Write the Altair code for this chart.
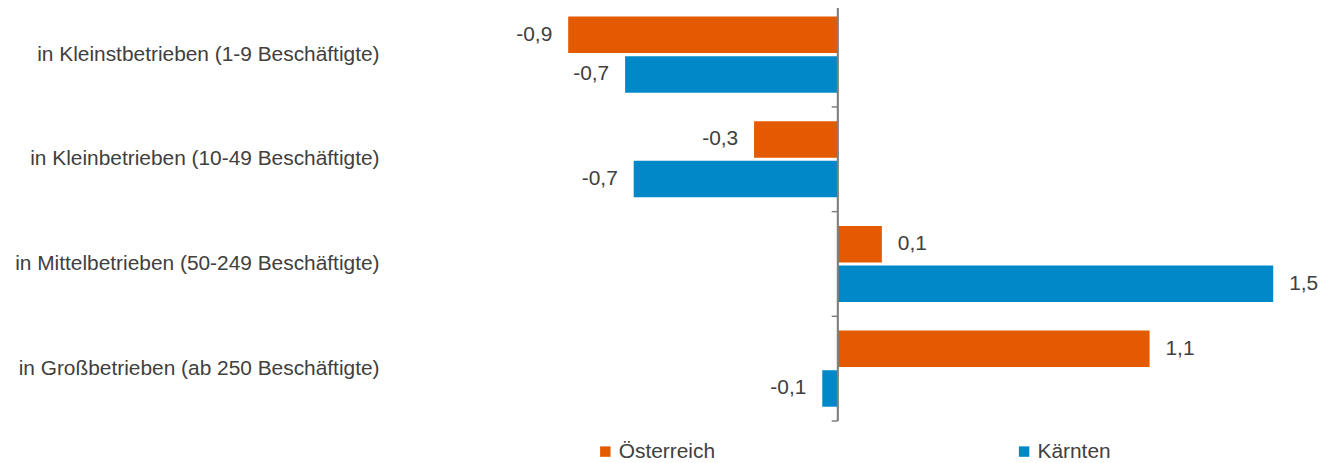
import altair as alt
import pandas as pd

categories = [
    "in Kleinstbetrieben (1-9 Beschäftigte)",
    "in Kleinbetrieben (10-49 Beschäftigte)",
    "in Mittelbetrieben (50-249 Beschäftigte)",
    "in Großbetrieben (ab 250 Beschäftigte)",
]
series = ["Österreich", "Kärnten"]
oesterreich = [-0.909, -0.282, 0.149, 1.052]
kaernten = [-0.717, -0.688, 1.469, -0.052]
colors = ["#E35A00", "#0088C9"]

rows = []
for i, c in enumerate(categories):
    rows.append({"cat": c, "series": series[0], "v": oesterreich[i], "order": 0})
    rows.append({"cat": c, "series": series[1], "v": kaernten[i], "order": 1})
df = pd.DataFrame(rows)
cat_df = pd.DataFrame({"cat": categories})

FONT = "Liberation Sans"
TXT = "#404040"
FS = 21

yenc = alt.Y(
    "cat:N",
    sort=categories,
    scale=alt.Scale(paddingInner=0, paddingOuter=0),
    axis=alt.Axis(
        title=None, domain=False, ticks=False, tickSize=0, labelPadding=14,
        labelFontSize=FS, labelFont=FONT, labelColor=TXT, labelLimit=700,
    ),
)
yoff = alt.YOffset(
    "series:N", sort=series,
    scale=alt.Scale(paddingInner=0.08, paddingOuter=0.36),
)
xenc = alt.X("v:Q", scale=alt.Scale(domain=[-1.5, 1.6], nice=False, zero=False), axis=None)

base = alt.Chart(df)

bars = base.mark_bar().encode(
    y=yenc,
    yOffset=yoff,
    x=xenc,
    color=alt.Color(
        "series:N",
        sort=series,
        scale=alt.Scale(domain=series, range=colors),
        legend=alt.Legend(
            title=None, orient="none", direction="horizontal",
            legendX=203, legendY=441, columnPadding=300,
            symbolType="square", symbolSize=110, symbolStrokeWidth=0,
            symbolOffset=0, labelOffset=3,
            labelFontSize=FS, labelFont=FONT, labelColor=TXT, padding=0,
        ),
    ),
)

label_expr = "replace(replace(format(datum.v, '.1f'), '.', ','), '\u2212', '-')"

text_pos = base.transform_filter("datum.v >= 0").transform_calculate(
    lab=label_expr
).mark_text(align="left", baseline="middle", dx=16, fontSize=FS, font=FONT, color=TXT).encode(
    y=alt.Y("cat:N", sort=categories), yOffset=alt.YOffset("series:N", sort=series), x="v:Q", text="lab:N"
)
text_neg = base.transform_filter("datum.v < 0").transform_calculate(
    lab=label_expr
).mark_text(align="right", baseline="middle", dx=-16, fontSize=FS, font=FONT, color=TXT).encode(
    y=alt.Y("cat:N", sort=categories), yOffset=alt.YOffset("series:N", sort=series), x="v:Q", text="lab:N"
)

zero_line = alt.Chart(cat_df).mark_rule(color="#7F7F7F", strokeWidth=1.5).encode(
    x=alt.datum(0)
)
ticks_top = alt.Chart(cat_df).mark_rule(color="#7F7F7F", strokeWidth=1.5, x2Offset=-6).encode(
    x=alt.datum(0), x2=alt.datum(0), y=alt.Y("cat:N", sort=categories, bandPosition=0)
)
ticks_bottom = alt.Chart(cat_df).transform_filter(
    alt.datum.cat == categories[-1]
).mark_rule(color="#7F7F7F", strokeWidth=1.5, x2Offset=-6).encode(
    x=alt.datum(0), x2=alt.datum(0), y=alt.Y("cat:N", sort=categories, bandPosition=1)
)

chart = alt.layer(bars, text_pos, text_neg, zero_line, ticks_top, ticks_bottom).properties(
    width=924, height=421,
    autosize=alt.AutoSizeParams(type="none"),
    padding={"left": 387, "top": -7, "right": 12, "bottom": 40},
).configure(font=FONT).configure_view(stroke="transparent", strokeWidth=0)

chart.save("out.html", embed_options={"renderer": "svg", "actions": False})
